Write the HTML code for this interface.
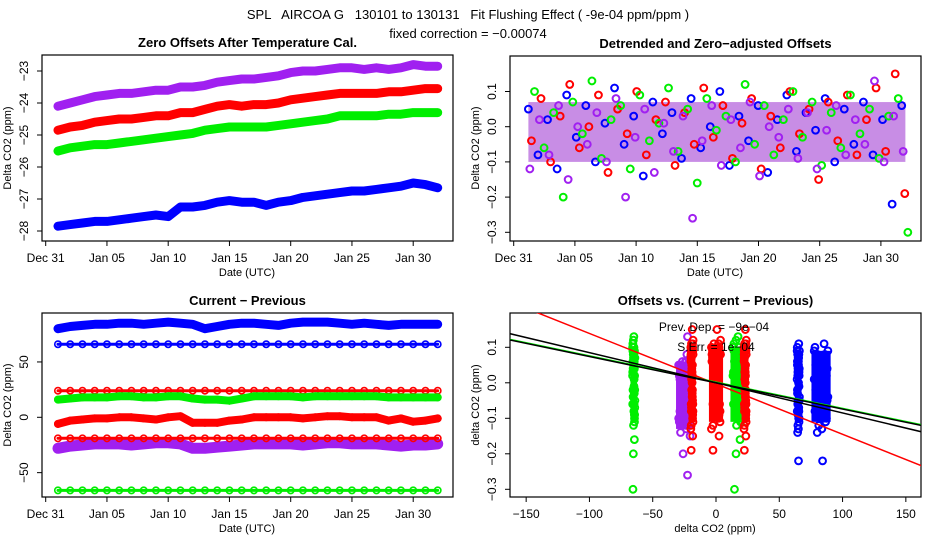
<!DOCTYPE html>
<html><head><meta charset="utf-8"><style>
body{margin:0;background:#fff}
svg{display:block;font-family:"Liberation Sans",sans-serif}
</style></head><body>
<svg id="s" width="936" height="540" viewBox="0 0 936 540">
<text x="468" y="19" font-size="13" text-anchor="middle" style="white-space:pre">SPL   AIRCOA G   130101 to 130131   Fit Flushing Effect ( -9e-04 ppm/ppm )</text>
<text x="468" y="38" font-size="13" text-anchor="middle">fixed correction = −0.00074</text>
</svg>
<script>
// ---- data ----
const p1Days=[1,2,3,4,5,6,7,8,9,10,11,12,13,14,15,16,17,18,19,20,21,22,23,24,25,26,27,28,29,30,31,32];
const p1Purple=[-24.1,-24.0,-23.9,-23.8,-23.75,-23.7,-23.7,-23.65,-23.6,-23.6,-23.5,-23.5,-23.45,-23.35,-23.3,-23.25,-23.25,-23.2,-23.15,-23.05,-23.0,-23.0,-22.95,-22.9,-22.9,-22.95,-22.9,-22.95,-22.9,-22.8,-22.85,-22.85];
const p1Red=[-24.85,-24.75,-24.7,-24.6,-24.55,-24.5,-24.5,-24.45,-24.4,-24.4,-24.3,-24.3,-24.2,-24.1,-24.05,-24.1,-24.05,-24.05,-24.0,-23.9,-23.85,-23.8,-23.75,-23.7,-23.7,-23.7,-23.7,-23.65,-23.65,-23.6,-23.55,-23.55];
const p1Green=[-25.5,-25.4,-25.35,-25.3,-25.3,-25.25,-25.2,-25.15,-25.1,-25.05,-25.0,-24.95,-24.85,-24.8,-24.75,-24.75,-24.75,-24.75,-24.7,-24.65,-24.6,-24.55,-24.5,-24.4,-24.4,-24.4,-24.4,-24.35,-24.35,-24.3,-24.3,-24.3];
const p1Blue=[-27.85,-27.8,-27.75,-27.7,-27.7,-27.65,-27.6,-27.55,-27.5,-27.55,-27.25,-27.25,-27.2,-27.1,-27.05,-27.1,-27.1,-27.2,-27.1,-27.05,-26.95,-26.9,-26.85,-26.8,-26.75,-26.75,-26.7,-26.65,-26.6,-26.5,-26.55,-26.65];
const dateTicks=[0,5,10,15,20,25,30];
const dateLabels=["Dec 31","Jan 05","Jan 10","Jan 15","Jan 20","Jan 25","Jan 30"];
const p1YTicks=[-23,-24,-25,-26,-27,-28];

const resBlue=[0.05,-0.08,0.02,-0.12,0.09,-0.03,0.06,-0.1,0.01,0.11,-0.05,0.03,-0.14,0.07,-0.02,0.04,-0.09,0.08,-0.06,0.0,0.1,-0.11,0.03,-0.04,0.06,-0.13,0.02,0.09,-0.07,0.04,-0.01,0.08,-0.1,0.05,-0.05,0.07,-0.08,0.02,-0.22,0.06];
const resRed=[-0.04,0.08,-0.1,0.03,0.12,-0.06,0.0,0.09,-0.13,0.05,-0.02,0.1,-0.08,0.02,0.07,-0.11,0.04,-0.05,0.11,-0.03,0.06,-0.09,0.01,0.08,-0.12,0.03,-0.06,0.1,-0.02,0.05,-0.15,0.07,-0.04,0.09,-0.08,0.02,0.11,-0.07,0.15,-0.19];
const resGreen=[0.1,-0.06,0.04,-0.2,0.07,-0.02,0.13,-0.09,0.02,0.06,-0.12,0.09,-0.04,0.01,0.11,-0.07,0.05,-0.16,0.08,-0.01,0.03,-0.1,0.12,-0.05,0.06,-0.08,0.02,0.1,-0.03,0.07,-0.11,0.04,-0.06,0.09,-0.02,0.05,-0.09,0.03,0.08,-0.3];
const resPurple=[-0.12,0.02,-0.08,0.06,-0.15,0.0,-0.05,0.04,-0.1,0.08,-0.2,-0.03,0.05,-0.13,0.01,-0.07,0.03,-0.26,-0.04,0.06,-0.11,0.02,-0.06,0.07,-0.14,0.0,-0.03,0.05,-0.09,0.04,-0.12,-0.01,0.06,-0.08,0.02,-0.05,0.13,-0.1,0.03,-0.07];
const p2YTicks=[0.1,0.0,-0.1,-0.2,-0.3];
const p2YLabels=["0.1","0.0","−0.1","−0.2","−0.3"];

const p3BlueUp=[80,82,83,84,84,85,85,84,85,86,85,84,80,82,84,85,85,84,83,85,86,86,86,85,84,85,84,83,84,84,84,84];
const p3BlueLow=[66,66,66,66,66,66,66,66,66,66,66,66,66,66,66,66,66,66,66,66,66,66,66,66,66,66,66,66,66,66,66,66];
const p3Red23=[24,24,24,24,24,24,24,24,24,24,24,24,24,24,24,24,24,24,24,24,24,24,24,24,24,24,24,24,24,24,24,24];
const p3Green17=[16,17,18,18,18,19,19,18,18,19,19,17,16,16,15,17,19,19,19,19,18,19,19,19,19,19,19,18,18,18,18,18];
const p3Red0=[-6,-3,-2,-1,-1,0,0,-1,-2,0,1,-5,-5,-5,-3,-2,0,0,0,0,-1,0,1,1,0,0,0,-3,-1,-4,-3,-1];
const p3RedM19=[-19,-19,-19,-19,-19,-19,-19,-19,-19,-19,-19,-19,-19,-19,-19,-19,-19,-19,-19,-19,-19,-19,-19,-19,-19,-19,-19,-19,-19,-19,-19,-19];
const p3Purple=[-28,-26,-25,-24,-24,-24,-25,-24,-23,-23,-24,-28,-28,-27,-26,-25,-24,-24,-24,-24,-25,-24,-23,-23,-24,-24,-24,-25,-26,-25,-25,-24];
const p3GreenM65=[-66,-66,-66,-66,-66,-66,-66,-66,-66,-66,-66,-66,-66,-66,-66,-66,-66,-66,-66,-66,-66,-66,-66,-66,-66,-66,-66,-66,-66,-66,-66,-66];
const p3YTicks=[50,0,-50];

const p4Centers=[-65,-25,-19,0,17,23,65,83];
const p4Spread=[1,5,1,4,4,1,1,6];
const p4Jitter=[0.2,-0.8,0.5,-0.3,0.9,-0.6,0.1,0.7,-0.9,0.4,-0.2,0.6,-0.5,0.3,-0.7,0.8,-0.1,0.5,-0.4,0.2,-0.8,0.6,-0.3,0.9,-0.6,0.1,0.7,-0.9,0.4,-0.2,0.6,-0.5,0.3,-0.7,0.8,-0.1,0.5,-0.4,0.2,-0.6];
const p4XTicks=[-150,-100,-50,0,50,100,150];
const p4YTicks=[0.1,0.0,-0.1,-0.2,-0.3];
const fitBlackSlope=-0.00085, fitBlackInt=0.0;
const fitGreenSlope=-0.00074, fitGreenInt=0.0;
const fitRedSlope=-0.00142, fitRedInt=-0.003;

// ---- helpers ----
const NS="http://www.w3.org/2000/svg", S=document.getElementById('s');
function mk(tag,attrs,parent){const e=document.createElementNS(NS,tag);for(const k in attrs)e.setAttribute(k,attrs[k]);(parent||S).appendChild(e);return e;}
const COL={blue:"#0000ff",red:"#ff0000",green:"#00ee00",purple:"#a020f0"};
function panel(name,x0,y0,x1,y1,title){
  const g=mk('g',{});
  
  
  const r=mk('rect',{x:x0,y:y0,width:x1-x0,height:y1-y0,fill:'none',stroke:'#000','stroke-width':1.2},g);
  
  
  const t=mk('text',{x:(x0+x1)/2,y:y0-8,'font-size':13,'font-weight':'bold','text-anchor':'middle'},g);
  t.textContent=title;
  
  
  return g;
}
function yAxis(g,x0,vals,labels,sy,title,ymid){
  vals.forEach((v,i)=>{
    const y=sy(v);
    const l=mk('line',{x1:x0,x2:x0-5,y1:y,y2:y,stroke:'#000'},g);
    
    
    const t=mk('text',{x:x0-14,y:y,'font-size':12,'text-anchor':'middle',transform:`rotate(-90 ${x0-14} ${y})`},g);
    t.textContent=labels[i];
    
    
  });
  const t=mk('text',{x:x0-31,y:ymid,'font-size':11,'text-anchor':'middle',transform:`rotate(-90 ${x0-31} ${ymid})`},g);
  t.textContent=title;
  
  
}
function xAxis(g,yb,vals,labels,sx,title,xmid){
  vals.forEach((v,i)=>{
    const x=sx(v);
    const l=mk('line',{x1:x,x2:x,y1:yb,y2:yb+5,stroke:'#000'},g);
    
    
    const t=mk('text',{x:x,y:yb+21,'font-size':12,'text-anchor':'middle'},g);
    t.textContent=labels[i];
    
    
  });
  const t=mk('text',{x:xmid,y:yb+35,'font-size':11,'text-anchor':'middle'},g);
  t.textContent=title;
  
  
}
function band(g,xs,ys,sx,sy,col,name,w){
  const pts=xs.map((x,i)=>sx(x).toFixed(1)+','+sy(ys[i]).toFixed(1)).join(' ');
  const pl=mk('polyline',{points:pts,fill:'none',stroke:col,'stroke-width':w,'stroke-linejoin':'round','stroke-linecap':'round'},g);
  
  
  xs.forEach((x,i)=>{
    const c=mk('circle',{cx:sx(x),cy:sy(ys[i]),r:3.2,fill:'none',stroke:col,'stroke-width':1.6},g);
    
    
  });
}
function pts(g,xs,ys,sx,sy,col,name){
  xs.forEach((x,i)=>{
    const c=mk('circle',{cx:sx(x),cy:sy(ys[i]),r:3.4,fill:'none',stroke:col,'stroke-width':2});
    g.appendChild(c);
    
    
  });
}

// ---- panel 1 ----
{
  const g=panel('panel-zero-offsets',42,55,453,241,'Zero Offsets After Temperature Cal.');
  const sx=d=>45.7+d*12.25, sy=v=>71+(-23-v)*32;
  yAxis(g,42,p1YTicks,p1YTicks.map(v=>'−'+Math.abs(v)),sy,'Delta CO2 (ppm)',148);
  xAxis(g,241,dateTicks,dateLabels,sx,'Date (UTC)',247);
  band(g,p1Days,p1Purple,sx,sy,COL.purple,'series-purple',9);
  band(g,p1Days,p1Red,sx,sy,COL.red,'series-red',9);
  band(g,p1Days,p1Green,sx,sy,COL.green,'series-green',9);
  band(g,p1Days,p1Blue,sx,sy,COL.blue,'series-blue',9);
}
// ---- panel 2 ----
{
  const g=panel('panel-detrended',510,56,921,241,'Detrended and Zero−adjusted Offsets');
  const sx=d=>513.7+d*12.24, sy=v=>126.7-v*352;
  yAxis(g,510,p2YTicks,p2YLabels,sy,'Delta CO2 (ppm)',148);
  xAxis(g,241,dateTicks,dateLabels,sx,'Date (UTC)',715);
  const bandR=mk('rect',{x:sx(1.2),y:sy(0.07),width:sx(32)-sx(1.2),height:sy(-0.1)-sy(0.07),fill:'#9a30d0',opacity:0.55},g);
  
  
  [[resBlue,COL.blue,0],[resRed,COL.red,0.25],[resGreen,COL.green,0.5],[resPurple,COL.purple,0.12]].forEach(([arr,col,off])=>{
    const ds=arr.map((_,i)=>1.2+off+i*(30.5/(arr.length-1)));
    pts(g,ds,arr,sx,sy,col,'residual-point');
  });
}
// ---- panel 3 ----
{
  const g=panel('panel-current-previous',42,313,453,497,'Current − Previous');
  const sx=d=>45.7+d*12.25, sy=v=>417.3-v*1.107;
  yAxis(g,42,p3YTicks,["50","0","−50"],sy,'Delta CO2 (ppm)',405);
  xAxis(g,497,dateTicks,dateLabels,sx,'Date (UTC)',247);
  band(g,p1Days,p3BlueUp,sx,sy,COL.blue,'series-blue-upper',9);
  band(g,p1Days,p3BlueLow,sx,sy,COL.blue,'series-blue-lower',3);
  band(g,p1Days,p3Red23,sx,sy,COL.red,'series-red-upper',3);
  band(g,p1Days,p3Green17,sx,sy,COL.green,'series-green-upper',8);
  band(g,p1Days,p3Red0,sx,sy,COL.red,'series-red-middle',8);
  band(g,p1Days,p3Purple,sx,sy,COL.purple,'series-purple',11);
  band(g,p1Days,p3RedM19,sx,sy,COL.red,'series-red-lower',3);
  band(g,p1Days,p3GreenM65,sx,sy,COL.green,'series-green-lower',3);
}
// ---- panel 4 ----
{
  const g=panel('panel-offsets-vs-diff',510,313,921,497,'Offsets vs. (Current − Previous)');
  const sx=v=>716+v*1.2656, sy=v=>382.8-v*355;
  yAxis(g,510,p4YTicks,p2YLabels,sy,'delta CO2 (ppm)',405);
  xAxis(g,497,p4XTicks,p4XTicks.map(v=>v<0?'−'+Math.abs(v):String(v)),sx,'delta CO2 (ppm)',715);
  const groupData=[resGreen,resPurple,resRed,resRed,resGreen,resRed,resBlue,resBlue];
  const groupCol=[COL.green,COL.purple,COL.red,COL.red,COL.green,COL.red,COL.blue,COL.blue];
  const clip=mk('clipPath',{id:'c4'},g);mk('rect',{x:510,y:313,width:411,height:184},clip);
  const cg=mk('g',{'clip-path':'url(#c4)'},g);
  p4Centers.forEach((cx,k)=>{
    const arr=groupData[k];
    const s=[...arr].sort((a,b)=>a-b);
    const lo=s[Math.floor(s.length*0.1)], hi=s[Math.floor(s.length*0.9)];
    const r=mk('rect',{x:sx(cx-p4Spread[k])-2,y:sy(hi),width:sx(cx+p4Spread[k])-sx(cx-p4Spread[k])+4,height:sy(lo)-sy(hi),fill:groupCol[k]},cg);
    
    
    const xs=arr.map((_,i)=>cx+p4Jitter[i]*p4Spread[k]);
    pts(cg,xs,arr,sx,sy,groupCol[k],'group-point');
  });
  function fit(sl,ic,col,name,w){
    const l=mk('line',{x1:sx(-163),y1:sy(ic+sl*-163),x2:sx(163),y2:sy(ic+sl*163),stroke:col,'stroke-width':w},cg);
    
    
  }
  fit(fitRedSlope,fitRedInt,COL.red,'fit-line-red',1.5);
  fit(fitGreenSlope,fitGreenInt+0.002,COL.green,'fit-line-green',1.5);
  fit(fitGreenSlope,fitGreenInt,'#000','fit-line-fixed',1.5);
  fit(fitBlackSlope,fitBlackInt,'#000','fit-line-black',1.5);
  const t1=mk('text',{x:714,y:331,'font-size':12,'text-anchor':'middle'},g);
  t1.textContent='Prev. Dep. =  −9e−04';
  
  
  const t2=mk('text',{x:716,y:351,'font-size':12,'text-anchor':'middle'},g);
  t2.textContent='S.Err. =  1e−04';
  
  
}
</script>
</body></html>
